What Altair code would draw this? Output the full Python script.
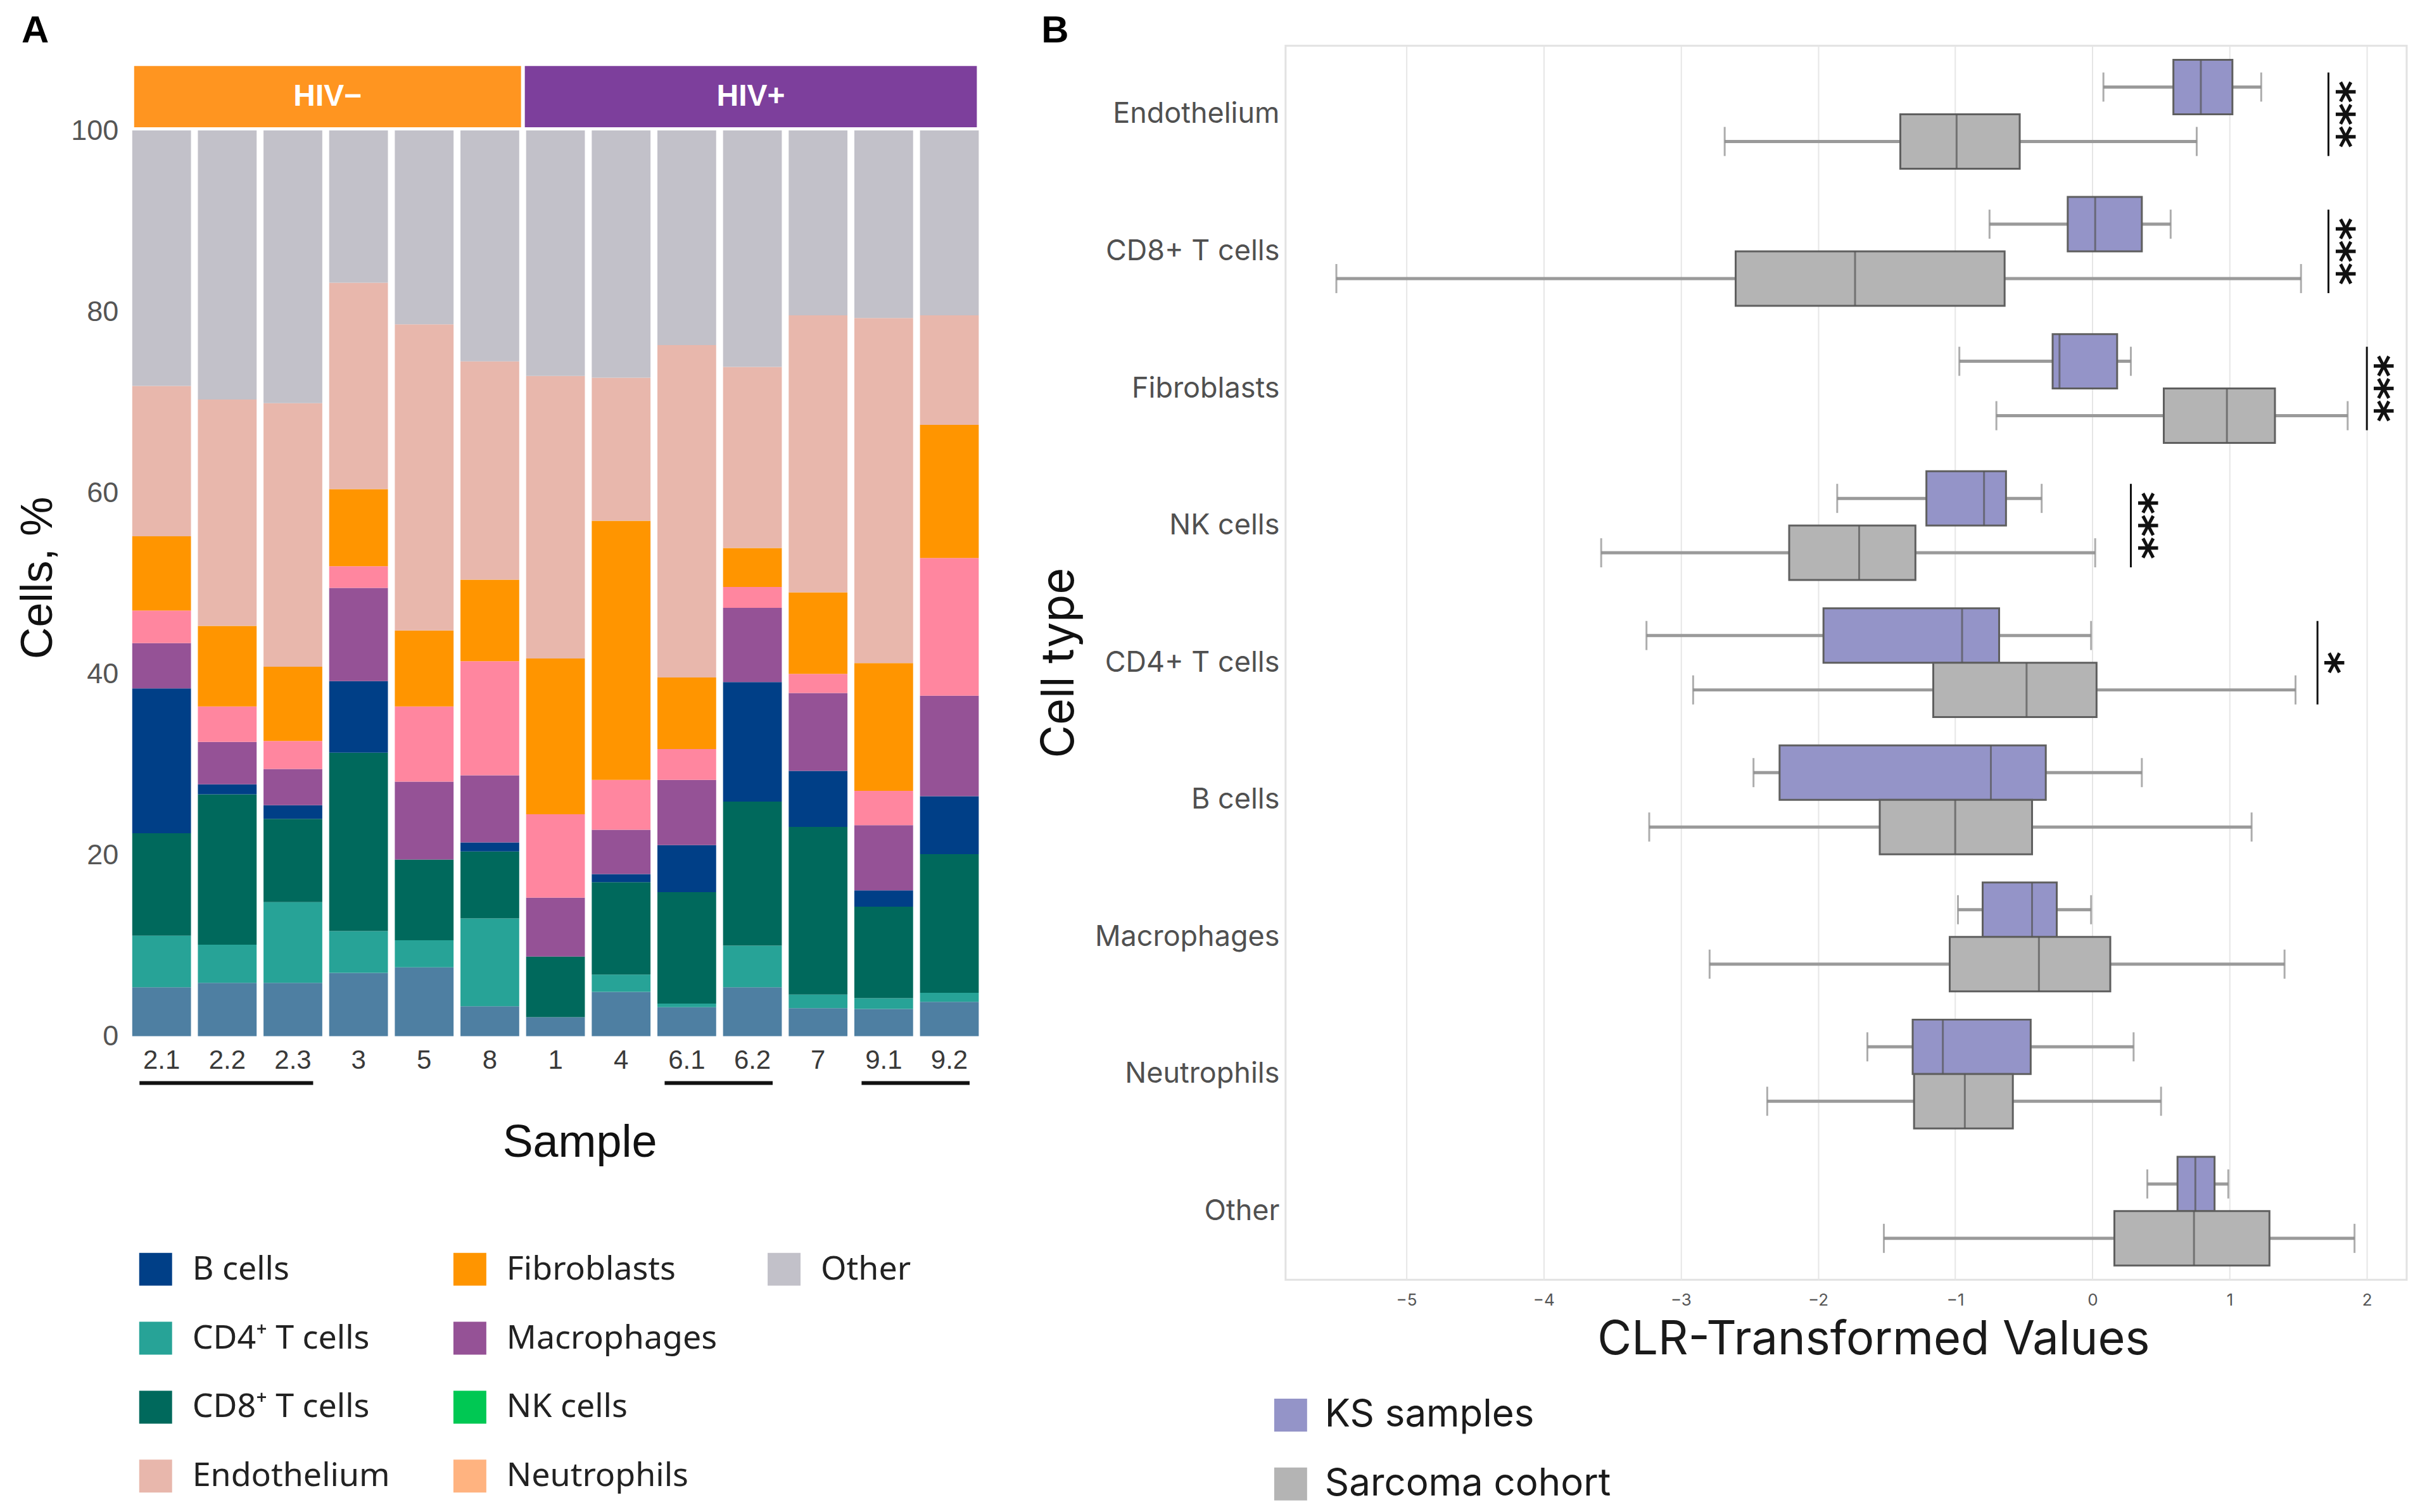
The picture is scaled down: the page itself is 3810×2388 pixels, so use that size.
import altair as alt
import pandas as pd

# ---------------- Panel A data ----------------
samples = ["2.1", "2.2", "2.3", "3", "5", "8", "1", "4", "6.1", "6.2", "7", "9.1", "9.2"]
groups = ["HIV−", "HIV+"]
group_sizes = [6, 7]
underline_start = ["2.1", "6.1", "9.1"]
underline_end = ["2.3", "6.2", "9.2"]

# segment heights (%) per sample, stacked bottom -> top
seg_blue_unlisted = [5.4, 5.9, 5.9, 7.0, 7.6, 3.3, 2.1, 4.9, 3.2, 5.4, 3.1, 3.0, 3.8]
seg_cd4 = [5.7, 4.2, 8.9, 4.6, 3.0, 9.7, 0.0, 1.9, 0.4, 4.6, 1.5, 1.2, 1.0]
seg_cd8 = [11.3, 16.6, 9.2, 19.7, 8.9, 7.4, 6.7, 10.2, 12.3, 15.9, 18.5, 10.1, 15.3]
seg_b = [16.0, 1.1, 1.5, 7.9, 0.0, 1.0, 0.0, 0.9, 5.2, 13.2, 6.2, 1.8, 6.4]
seg_mac = [5.0, 4.7, 4.0, 10.3, 8.6, 7.4, 6.5, 4.9, 7.2, 8.2, 8.6, 7.2, 11.1]
seg_pink_unlisted = [3.6, 3.9, 3.1, 2.4, 8.3, 12.6, 9.2, 5.5, 3.4, 2.3, 2.1, 3.8, 15.2]
seg_fib = [8.2, 8.9, 8.2, 8.5, 8.4, 9.0, 17.2, 28.6, 7.9, 4.3, 9.0, 14.1, 14.7]
seg_endo = [16.6, 25.0, 29.1, 22.8, 33.8, 24.1, 31.2, 15.8, 36.7, 20.0, 30.6, 38.1, 12.1]
seg_other = [28.2, 29.7, 30.1, 16.8, 21.4, 25.5, 27.1, 27.3, 23.7, 26.1, 20.4, 20.7, 20.4]

stack_keys = ["Unlisted blue", "CD4 T cells", "CD8 T cells", "B cells", "Macrophages",
              "Unlisted pink", "Fibroblasts", "Endothelium", "Other"]
stack_values = [seg_blue_unlisted, seg_cd4, seg_cd8, seg_b, seg_mac,
                seg_pink_unlisted, seg_fib, seg_endo, seg_other]

color_keys = ["B cells", "CD4 T cells", "CD8 T cells", "Endothelium", "Fibroblasts",
              "Macrophages", "NK cells", "Neutrophils", "Other", "Unlisted blue", "Unlisted pink"]
color_vals = ["#003f87", "#27a397", "#00695c", "#e8b7ac", "#ff9500",
              "#955296", "#00c853", "#ffb380", "#c2c1c9", "#4e7fa2", "#ff869f"]

legend_keys = ["B cells", "CD4 T cells", "CD8 T cells", "Endothelium", "Fibroblasts",
               "Macrophages", "NK cells", "Neutrophils", "Other"]
legend_labels = ["B cells", "CD4⁺ T cells", "CD8⁺ T cells", "Endothelium", "Fibroblasts",
                 "Macrophages", "NK cells", "Neutrophils", "Other"]

# ---------------- Panel B data ----------------
cell_types = ["Endothelium", "CD8+ T cells", "Fibroblasts", "NK cells", "CD4+ T cells",
              "B cells", "Macrophages", "Neutrophils", "Other"]
box_groups = ["KS samples", "Sarcoma cohort"]
ks_low = [0.08, -0.75, -0.97, -1.86, -3.25, -2.47, -0.98, -1.64, 0.40]
ks_q1 = [0.59, -0.18, -0.29, -1.21, -1.96, -2.28, -0.80, -1.31, 0.62]
ks_med = [0.79, 0.02, -0.24, -0.79, -0.95, -0.74, -0.44, -1.09, 0.75]
ks_q3 = [1.02, 0.36, 0.18, -0.63, -0.68, -0.34, -0.26, -0.45, 0.89]
ks_high = [1.23, 0.57, 0.28, -0.37, -0.01, 0.36, -0.01, 0.30, 0.99]
sc_low = [-2.68, -5.51, -0.70, -3.58, -2.91, -3.23, -2.79, -2.37, -1.52]
sc_q1 = [-1.40, -2.60, 0.52, -2.21, -1.16, -1.55, -1.04, -1.30, 0.16]
sc_med = [-0.99, -1.73, 0.98, -1.70, -0.48, -1.00, -0.39, -0.93, 0.74]
sc_q3 = [-0.53, -0.64, 1.33, -1.29, 0.03, -0.44, 0.13, -0.58, 1.29]
sc_high = [0.76, 1.52, 1.86, 0.02, 1.48, 1.16, 1.40, 0.50, 1.91]

sig_cells = ["Endothelium", "CD8+ T cells", "Fibroblasts", "NK cells", "CD4+ T cells"]
sig_x = [1.72, 1.72, 2.00, 0.28, 1.64]
sig_text = ["***", "***", "***", "***", "*"]

box_colors = ["#9494c8", "#b4b4b4"]

# ---------------- build tables ----------------
rowsA = []
for i, s in enumerate(samples):
    for k, (key, vals) in enumerate(zip(stack_keys, stack_values)):
        rowsA.append({"sample": s, "cell": key, "pct": vals[i], "order": k})
dfA = pd.DataFrame(rowsA)

starts = [sum(group_sizes[:i]) for i in range(len(group_sizes))]
dfH = pd.DataFrame({"group": groups, "start": starts,
                    "end": [s + n for s, n in zip(starts, group_sizes)]})
dfU = pd.DataFrame({"start": underline_start, "end": underline_end})

dfL = pd.DataFrame({"key": legend_keys, "label": legend_labels,
                    "col": [i // 4 for i in range(len(legend_keys))],
                    "row": [i % 4 for i in range(len(legend_keys))]})

rowsB = []
for gname, lo, q1, md, q3, hi in [("KS samples", ks_low, ks_q1, ks_med, ks_q3, ks_high),
                                   ("Sarcoma cohort", sc_low, sc_q1, sc_med, sc_q3, sc_high)]:
    for j, c in enumerate(cell_types):
        rowsB.append({"cat": c, "group": gname, "low": lo[j], "q1": q1[j],
                      "med": md[j], "q3": q3[j], "high": hi[j]})
dfB = pd.DataFrame(rowsB)
dfS = pd.DataFrame({"cat": sig_cells, "xpos": sig_x, "label": sig_text})

# ---------------- Panel A ----------------
FA = "Liberation Sans"
WA, HA = 1338, 1566
y_top = 109.36
header_hi = 107.12
header_lo = 100.35

color_scale = alt.Scale(domain=color_keys, range=color_vals)
xband = alt.Scale(domain=samples, paddingInner=0.105, paddingOuter=0)
ax_xA = alt.Axis(labelAngle=0, ticks=False, tickSize=0, domain=False, labelFont=FA,
                 labelFontSize=42, labelColor="#3a3a3a", labelPadding=18,
                 titleFont=FA, titleFontSize=72, titleFontWeight="normal",
                 titleColor="#111111", titlePadding=74, titleX=707)
ax_yA = alt.Axis(values=[0, 20, 40, 60, 80, 100], grid=False, ticks=False, tickSize=0,
                 domain=False, labelFont=FA, labelFontSize=45, labelColor="#555555",
                 labelPadding=22, titleFont=FA, titleFontSize=70, titleFontWeight="normal",
                 titleColor="#111111", titlePadding=15, titleY=841)

bars = alt.Chart(dfA).mark_bar(strokeWidth=0).encode(
    x=alt.X("sample:N", sort=samples, scale=xband, axis=ax_xA, title="Sample"),
    y=alt.Y("pct:Q", stack="zero", scale=alt.Scale(domain=[0, y_top], nice=False),
            axis=ax_yA, title="Cells, %"),
    color=alt.Color("cell:N", scale=color_scale, legend=None),
    order=alt.Order("order:Q"),
)
under = alt.Chart(dfU).mark_rule(color="#111111", strokeWidth=6, xOffset=-35, x2Offset=32).encode(
    x=alt.X("start:N", sort=samples, scale=xband, axis=ax_xA, title="Sample"),
    x2="end:N",
    y=alt.value(1640),
)
head_rect = alt.Chart(dfH).mark_rect(xOffset=3, x2Offset=-3).encode(
    x=alt.X("start:Q", scale=alt.Scale(domain=[0, len(samples)], nice=False), axis=None),
    x2="end:Q",
    y=alt.datum(header_hi),
    y2=alt.datum(header_lo),
    color=alt.Color("group:N", scale=alt.Scale(domain=groups, range=["#ff9520", "#7d3f9c"]), legend=None),
)
head_text = alt.Chart(dfH).transform_calculate(mid="(datum.start + datum.end) / 2").mark_text(
    color="white", font=FA, fontSize=48, fontWeight="bold", align="center", baseline="middle"
).encode(
    x=alt.X("mid:Q", scale=alt.Scale(domain=[0, len(samples)], nice=False), axis=None),
    y=alt.datum((header_hi + header_lo) / 2),
    text="group:N",
)

chartA = alt.layer(
    alt.layer(bars, under),
    alt.layer(head_rect, head_text),
).resolve_scale(x="independent", color="independent").properties(
    width=WA, height=HA,
    title=alt.TitleParams("A", anchor="start", font=FA, fontSize=60, fontWeight="bold",
                          color="#000000", offset=-8, dx=8),
)

leg_x = alt.Scale(domain=[0, 3], range=[0, 1490], nice=False)
leg_y = alt.Scale(paddingInner=0, paddingOuter=0)
legendA_sq = alt.Chart(dfL).mark_square(size=2704, opacity=1, xOffset=37).encode(
    x=alt.X("col:Q", scale=leg_x, axis=None),
    y=alt.Y("row:O", scale=leg_y, axis=None),
    color=alt.Color("key:N", scale=color_scale, legend=None),
)
legendA_tx = alt.Chart(dfL).mark_text(align="left", baseline="middle", font="Noto Sans",
                                      fontSize=52, color="#222222", xOffset=95).encode(
    x=alt.X("col:Q", scale=leg_x, axis=None),
    y=alt.Y("row:O", scale=leg_y, axis=None),
    text="label:N",
)
legendA = alt.layer(legendA_sq, legendA_tx).properties(width=WA, height=436)

left = alt.vconcat(chartA, legendA, spacing=110).resolve_scale(
    x="independent", y="independent", color="independent")

# ---------------- Panel B ----------------
FB = "Inter"
WB, HB = 1772, 1951
xB = alt.Scale(domain=[-5.88, 2.29], nice=False, zero=False)
yB = alt.Scale(domain=cell_types, paddingInner=0, paddingOuter=0)
yO = alt.Scale(domain=box_groups, paddingInner=0, paddingOuter=0.26)
ax_xB = alt.Axis(values=[-5, -4, -3, -2, -1, 0, 1, 2], grid=True, gridColor="#e6e6e6",
                 gridWidth=2, ticks=False, tickSize=0, domain=False, labelFont=FB,
                 labelFontSize=26, labelColor="#555555", labelPadding=19,
                 titleFont=FB, titleFontSize=74, titleFontWeight="normal",
                 titleColor="#1a1a1a", titlePadding=14, titleX=929)
ax_yB = alt.Axis(ticks=False, tickSize=0, domain=False, grid=False, labelFont=FB,
                 labelFontSize=45, labelColor="#505050", labelPadding=10, labelLimit=500,
                 titleFont=FB, titleFontSize=72, titleFontWeight="normal",
                 titleColor="#111111", titleX=-321, titleY=HB / 2,
                 titleAngle=270, titleAlign="center", titleBaseline="bottom")
XT = "CLR-Transformed Values"
YT = "Cell type"


def Yb():
    return alt.Y("cat:N", sort=cell_types, scale=yB, axis=ax_yB, title=YT)


def Ob():
    return alt.YOffset("group:N", sort=box_groups, scale=yO)


whisk = alt.Chart(dfB).mark_rule(color="#9a9a9a", strokeWidth=5).encode(
    x=alt.X("low:Q", scale=xB, axis=ax_xB, title=XT), x2="high:Q", y=Yb(), yOffset=Ob())
caps = alt.Chart(dfB).transform_fold(["low", "high"], as_=["end", "val"]).mark_tick(
    color="#8a8a8a", size=46, thickness=3, orient="vertical").encode(
    x=alt.X("val:Q", scale=xB, axis=ax_xB, title=XT), y=Yb(), yOffset=Ob())
box = alt.Chart(dfB).mark_bar(stroke="#5f5f5f", strokeWidth=3).encode(
    x=alt.X("q1:Q", scale=xB, axis=ax_xB, title=XT), x2="q3:Q", y=Yb(), yOffset=Ob(),
    color=alt.Color("group:N", scale=alt.Scale(domain=box_groups, range=box_colors),
                    legend=alt.Legend(title=None, orient="none", legendX=-22, legendY=2135,
                                      direction="vertical", symbolType="square",
                                      symbolSize=2704, symbolStrokeWidth=0, symbolOpacity=1,
                                      labelFont=FB, labelFontSize=60, labelColor="#1a1a1a",
                                      labelOffset=24, rowPadding=49, labelLimit=800)))
med = alt.Chart(dfB).mark_tick(color="#555555", size=86, thickness=3, orient="vertical").encode(
    x=alt.X("med:Q", scale=xB, axis=ax_xB, title=XT), y=Yb(), yOffset=Ob())
sig_rule = alt.Chart(dfS).mark_rule(color="#111111", strokeWidth=3, yOffset=-66, y2Offset=66).encode(
    x=alt.X("xpos:Q", scale=xB, axis=ax_xB, title=XT), y=Yb(), y2="cat:N")
sig_lab = alt.Chart(dfS).mark_text(angle=90, fontSize=68, font="DejaVu Sans", fontWeight="bold",
                                   color="#111111", align="center", baseline="middle",
                                   xOffset=12).encode(
    x=alt.X("xpos:Q", scale=xB, axis=ax_xB, title=XT), y=Yb(), text="label:N")

chartB = alt.layer(whisk, caps, box, med, sig_rule, sig_lab).properties(
    width=WB, height=HB,
    view=alt.ViewBackground(stroke="#e2e2e2", strokeWidth=3),
    title=alt.TitleParams("B", anchor="start", font=FA, fontSize=60, fontWeight="bold",
                          color="#000000", offset=-8, dx=8),
)

chart = alt.hconcat(left, chartB, spacing=89).resolve_scale(
    x="independent", y="independent", color="independent"
).properties(
    padding={"left": 17, "top": 8, "right": 0, "bottom": 0}
).configure_view(strokeWidth=0)

chart.save("out.html", embed_options={"renderer": "svg", "actions": False})
